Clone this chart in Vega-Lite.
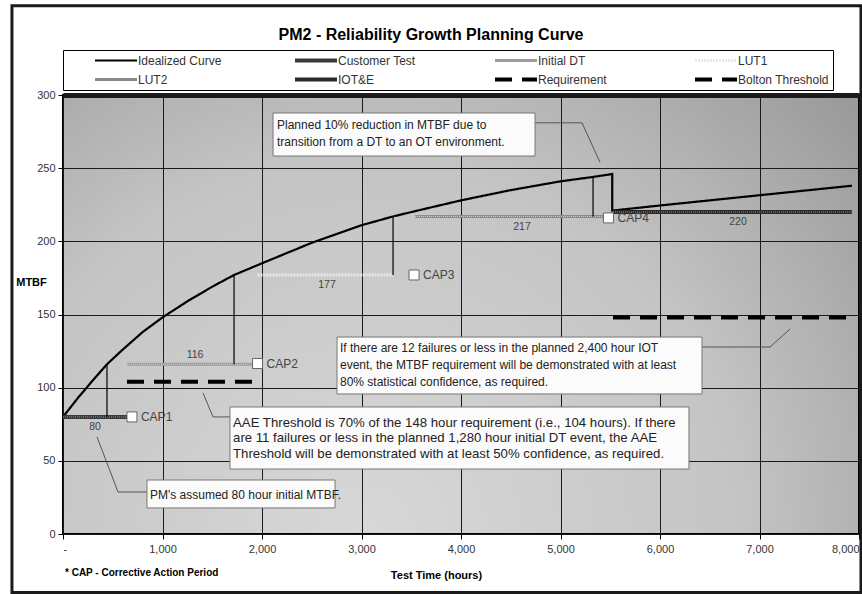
{
  "$schema": "https://vega.github.io/schema/vega-lite/v6.json",
  "width": 796,
  "height": 439,
  "autosize": {"type": "none"},
  "padding": {"left": 63, "top": 95, "right": 3, "bottom": 60},
  "background": "#ffffff",
  "title": {
    "text": "PM2 - Reliability Growth Planning Curve",
    "font": "Liberation Sans",
    "fontSize": 16,
    "fontWeight": "bold",
    "color": "#000000",
    "anchor": "middle",
    "dx": -30,
    "offset": 7,
    "dy": 46
  },
  "config": {
    "font": "Liberation Sans",
    "view": {
      "fill": {
        "gradient": "radial",
        "x1": 0.38, "y1": 0.78, "r1": 0,
        "x2": 0.38, "y2": 0.78, "r2": 0.95,
        "stops": [
          {"offset": 0, "color": "#d8d8d8"},
          {"offset": 0.5, "color": "#c4c4c4"},
          {"offset": 1, "color": "#8a8a8a"}
        ]
      },
      "stroke": "#000000",
      "strokeWidth": 2
    },
    "axis": {
      "labelFont": "Liberation Sans",
      "labelFontSize": 11,
      "labelColor": "#333333",
      "tickColor": "#000000",
      "tickSize": 5,
      "domain": false,
      "grid": true,
      "gridColor": "#1a1a1a",
      "gridWidth": 1,
      "titleFont": "Liberation Sans",
      "titleFontSize": 11,
      "titleFontWeight": "bold",
      "titleColor": "#000000"
    },
    "legend": {
      "orient": "none",
      "legendX": 0,
      "legendY": -45,
      "direction": "horizontal",
      "columns": 4,
      "strokeColor": "#000000",
      "strokeWidth": 1,
      "fillColor": "#ffffff",
      "padding": 4,
      "symbolType": "stroke",
      "symbolSize": 1764,
      "symbolOffset": 26,
      "labelOffset": -1,
      "columnPadding": 38,
      "rowPadding": 6,
      "clipHeight": 13,
      "labelFont": "Liberation Sans",
      "labelFontSize": 12,
      "labelColor": "#333333",
      "gridAlign": "all",
      "labelLimit": 260,
      "labelExpr": "datum.label + '        '"
    }
  },
  "datasets": {
    "lines": [
      {"series": "Idealized Curve", "i": 0, "t": 0, "v": 80},
      {"series": "Idealized Curve", "i": 1, "t": 150, "v": 93},
      {"series": "Idealized Curve", "i": 2, "t": 300, "v": 105},
      {"series": "Idealized Curve", "i": 3, "t": 442, "v": 116},
      {"series": "Idealized Curve", "i": 4, "t": 600, "v": 126},
      {"series": "Idealized Curve", "i": 5, "t": 800, "v": 138},
      {"series": "Idealized Curve", "i": 6, "t": 1000, "v": 148},
      {"series": "Idealized Curve", "i": 7, "t": 1250, "v": 159},
      {"series": "Idealized Curve", "i": 8, "t": 1500, "v": 169},
      {"series": "Idealized Curve", "i": 9, "t": 1719, "v": 177},
      {"series": "Idealized Curve", "i": 10, "t": 2000, "v": 185},
      {"series": "Idealized Curve", "i": 11, "t": 2500, "v": 199},
      {"series": "Idealized Curve", "i": 12, "t": 3000, "v": 211},
      {"series": "Idealized Curve", "i": 13, "t": 3317, "v": 217},
      {"series": "Idealized Curve", "i": 14, "t": 3500, "v": 220},
      {"series": "Idealized Curve", "i": 15, "t": 4000, "v": 228},
      {"series": "Idealized Curve", "i": 16, "t": 4500, "v": 235},
      {"series": "Idealized Curve", "i": 17, "t": 5000, "v": 241},
      {"series": "Idealized Curve", "i": 18, "t": 5327, "v": 244},
      {"series": "Idealized Curve", "i": 19, "t": 5520, "v": 246},
      {"series": "Idealized Curve", "i": 20, "t": 5520, "v": 221},
      {"series": "Idealized Curve", "i": 21, "t": 6000, "v": 224.5},
      {"series": "Idealized Curve", "i": 22, "t": 6500, "v": 228},
      {"series": "Idealized Curve", "i": 23, "t": 7000, "v": 231.5},
      {"series": "Idealized Curve", "i": 24, "t": 7500, "v": 235},
      {"series": "Idealized Curve", "i": 25, "t": 7930, "v": 238},
      {"series": "Customer Test", "i": 0, "t": 0, "v": 80},
      {"series": "Customer Test", "i": 1, "t": 693, "v": 80},
      {"series": "Initial DT", "i": 0, "t": 643, "v": 116},
      {"series": "Initial DT", "i": 1, "t": 1955, "v": 116},
      {"series": "LUT1", "i": 0, "t": 1955, "v": 177},
      {"series": "LUT1", "i": 1, "t": 3317, "v": 177},
      {"series": "LUT2", "i": 0, "t": 3538, "v": 217},
      {"series": "LUT2", "i": 1, "t": 5482, "v": 217},
      {"series": "IOT&E", "i": 0, "t": 5528, "v": 220},
      {"series": "IOT&E", "i": 1, "t": 7930, "v": 220},
      {"series": "Requirement", "i": 0, "t": 5528, "v": 148},
      {"series": "Requirement", "i": 1, "t": 7890, "v": 148},
      {"series": "Bolton Threshold", "i": 0, "t": 643, "v": 104},
      {"series": "Bolton Threshold", "i": 1, "t": 1910, "v": 104}
    ],
    "connectors": [
      {"t": 442, "v": 80, "v2": 116},
      {"t": 1719, "v": 116, "v2": 177},
      {"t": 3317, "v": 177, "v2": 217},
      {"t": 5327, "v": 217, "v2": 244}
    ],
    "caps": [
      {"cap": "CAP1", "t": 693, "v": 80},
      {"cap": "CAP2", "t": 1955, "v": 116.5},
      {"cap": "CAP3", "t": 3528, "v": 177},
      {"cap": "CAP4", "t": 5482, "v": 216}
    ],
    "values": [
      {"label": "80", "t": 322, "v": 73},
      {"label": "116", "t": 1327, "v": 122},
      {"label": "177", "t": 2653, "v": 170},
      {"label": "217", "t": 4613, "v": 210},
      {"label": "220", "t": 6784, "v": 213}
    ],
    "leaders": [
      {"id": 1, "i": 0, "t": 4744, "v": 281},
      {"id": 1, "i": 1, "t": 5216, "v": 281},
      {"id": 1, "i": 2, "t": 5397, "v": 254},
      {"id": 2, "i": 0, "t": 6422, "v": 127.8},
      {"id": 2, "i": 1, "t": 7106, "v": 127.8},
      {"id": 2, "i": 2, "t": 7307, "v": 140.1},
      {"id": 3, "i": 0, "t": 1678, "v": 80},
      {"id": 3, "i": 1, "t": 1508, "v": 80},
      {"id": 3, "i": 2, "t": 1407, "v": 96.4},
      {"id": 4, "i": 0, "t": 844, "v": 28.7},
      {"id": 4, "i": 1, "t": 553, "v": 28.7},
      {"id": 4, "i": 2, "t": 342, "v": 66.3}
    ],
    "boxes": [
      {"id": 1, "t": 2111, "t2": 4744, "v": 258.3, "v2": 287.7},
      {"id": 2, "t": 2754, "t2": 6422, "v": 95.7, "v2": 134.6},
      {"id": 3, "t": 1678, "t2": 6291, "v": 44.4, "v2": 86.8},
      {"id": 4, "t": 844, "t2": 2734, "v": 17.8, "v2": 36.9}
    ],
    "notes": [
      {"box": 1, "t": 2151, "v": 279.5, "text": "Planned 10% reduction in MTBF due to"},
      {"box": 1, "t": 2151, "v": 267.9, "text": "transition from a DT to an OT environment."},
      {"box": 2, "t": 2784, "v": 127.1, "text": "If there are 12 failures or less in the planned 2,400 hour IOT"},
      {"box": 2, "t": 2784, "v": 115.5, "text": "event, the MTBF requirement will be demonstrated with at least"},
      {"box": 2, "t": 2784, "v": 103.9, "text": "80% statistical confidence, as required."},
      {"box": 3, "t": 1709, "v": 75.8, "text": "AAE Threshold is 70% of the 148 hour requirement (i.e., 104 hours).  If there"},
      {"box": 3, "t": 1709, "v": 65.4, "text": "are 11 failures or less in the planned 1,280 hour initial DT event, the AAE"},
      {"box": 3, "t": 1709, "v": 55.0, "text": "Threshold will be demonstrated with at least 50% confidence, as required."},
      {"box": 4, "t": 874, "v": 26.7, "text": "PM's assumed 80 hour initial MTBF."}
    ],
    "footnote": [
      {"t": 20, "v": -26.7, "text": "* CAP - Corrective Action Period"}
    ]
  },
  "layer": [
    {
      "data": {"values": [{}]},
      "mark": {"type": "rect", "fill": "#ffffff", "fillOpacity": 0, "stroke": "#1a1a1a", "strokeWidth": 3},
      "encoding": {
        "x": {"datum": -513, "type": "quantitative", "scale": {"domain": [0, 8000], "nice": false, "zero": false}},
        "x2": {"datum": 8020},
        "y": {"datum": 361, "type": "quantitative", "scale": {"domain": [0, 300], "nice": false, "zero": false}},
        "y2": {"datum": -40}
      }
    },
    {
      "data": {"name": "lines"},
      "mark": {"type": "line", "strokeCap": "butt", "strokeJoin": "miter"},
      "encoding": {
        "x": {
          "field": "t", "type": "quantitative",
          "scale": {"domain": [0, 8000], "nice": false, "zero": false},
          "axis": {
            "values": [0, 1000, 2000, 3000, 4000, 5000, 6000, 7000, 8000],
            "labelExpr": "datum.value == 0 ? '-' : format(datum.value, ',')",
            "labelDx": -15,
            "labelPadding": 4,
            "title": "Test Time (hours)",
            "titleX": 373,
            "titleY": 41,
            "titleBaseline": "middle"
          }
        },
        "y": {
          "field": "v", "type": "quantitative",
          "scale": {"domain": [0, 300], "nice": false, "zero": false},
          "axis": {
            "values": [0, 50, 100, 150, 200, 250, 300],
            "labelPadding": 3,
            "gridWidth": {"condition": {"test": "datum.value === 300", "value": 5}, "value": 1},
            "title": "MTBF",
            "titleAngle": 0,
            "titleX": -32,
            "titleY": 187,
            "titleAlign": "center",
            "titleBaseline": "middle"
          }
        },
        "order": {"field": "i", "type": "quantitative"},
        "stroke": {
          "field": "series", "type": "nominal",
          "scale": {
            "domain": ["Idealized Curve", "Customer Test", "Initial DT", "LUT1", "LUT2", "IOT&E", "Requirement", "Bolton Threshold"],
            "range": ["#000000", "#3a3a3a", "#9c9c9c", "#e8e8e8", "#8a8a8a", "#2a2a2a", "#000000", "#000000"]
          },
          "legend": {"title": null}
        },
        "strokeDash": {
          "field": "series", "type": "nominal",
          "scale": {
            "domain": ["Idealized Curve", "Customer Test", "Initial DT", "LUT1", "LUT2", "IOT&E", "Requirement", "Bolton Threshold"],
            "range": [[1, 0], [1, 0], [1, 0], [2, 1], [1, 0], [1, 0], [17, 10], [17, 10]]
          },
          "legend": {"title": null}
        },
        "strokeWidth": {
          "field": "series", "type": "nominal",
          "scale": {
            "type": "ordinal",
            "domain": ["Idealized Curve", "Customer Test", "Initial DT", "LUT1", "LUT2", "IOT&E", "Requirement", "Bolton Threshold"],
            "range": [2.2, 4, 3, 3, 3, 4, 4, 4]
          },
          "legend": {"title": null}
        }
      }
    },
    {
      "data": {"name": "lines"},
      "transform": [{"filter": "datum.series === 'Customer Test' || datum.series === 'IOT&E'"}],
      "mark": {"type": "line", "stroke": "#8c8c8c", "strokeWidth": 1, "strokeDash": [1, 1], "strokeCap": "butt"},
      "encoding": {
        "x": {"field": "t", "type": "quantitative"},
        "y": {"field": "v", "type": "quantitative"},
        "detail": {"field": "series", "type": "nominal"},
        "order": {"field": "i", "type": "quantitative"}
      }
    },
    {
      "data": {"name": "lines"},
      "transform": [{"filter": "datum.series === 'Initial DT' || datum.series === 'LUT2'"}],
      "mark": {"type": "line", "stroke": "#cfcfcf", "strokeWidth": 1, "strokeDash": [1, 1], "strokeCap": "butt"},
      "encoding": {
        "x": {"field": "t", "type": "quantitative"},
        "y": {"field": "v", "type": "quantitative"},
        "detail": {"field": "series", "type": "nominal"},
        "order": {"field": "i", "type": "quantitative"}
      }
    },
    {
      "data": {"name": "connectors"},
      "mark": {"type": "rule", "stroke": "#000000", "strokeWidth": 1.2},
      "encoding": {
        "x": {"field": "t", "type": "quantitative"},
        "y": {"field": "v", "type": "quantitative"},
        "y2": {"field": "v2"}
      }
    },
    {
      "data": {"name": "leaders"},
      "mark": {"type": "line", "stroke": "#555555", "strokeWidth": 1},
      "encoding": {
        "x": {"field": "t", "type": "quantitative"},
        "y": {"field": "v", "type": "quantitative"},
        "detail": {"field": "id", "type": "nominal"},
        "order": {"field": "i", "type": "quantitative"}
      }
    },
    {
      "data": {"name": "boxes"},
      "mark": {"type": "rect", "fill": "#fbfbfb", "stroke": "#777777", "strokeWidth": 1},
      "encoding": {
        "x": {"field": "t", "type": "quantitative"},
        "x2": {"field": "t2"},
        "y": {"field": "v", "type": "quantitative"},
        "y2": {"field": "v2"}
      }
    },
    {
      "data": {"name": "notes"},
      "transform": [{"filter": "datum.box !== 3"}],
      "mark": {"type": "text", "align": "left", "baseline": "middle", "fontSize": 12, "color": "#222222"},
      "encoding": {
        "x": {"field": "t", "type": "quantitative"},
        "y": {"field": "v", "type": "quantitative"},
        "text": {"field": "text"}
      }
    },
    {
      "data": {"name": "notes"},
      "transform": [{"filter": "datum.box === 3"}],
      "mark": {"type": "text", "align": "left", "baseline": "middle", "fontSize": 13.2, "color": "#222222"},
      "encoding": {
        "x": {"field": "t", "type": "quantitative"},
        "y": {"field": "v", "type": "quantitative"},
        "text": {"field": "text"}
      }
    },
    {
      "data": {"name": "caps"},
      "mark": {"type": "point", "shape": "square", "size": 100, "filled": true, "fill": "#ffffff", "stroke": "#666666", "strokeWidth": 1, "opacity": 1},
      "encoding": {
        "x": {"field": "t", "type": "quantitative"},
        "y": {"field": "v", "type": "quantitative"}
      }
    },
    {
      "data": {"name": "caps"},
      "mark": {"type": "text", "align": "left", "baseline": "middle", "dx": 9, "fontSize": 12, "color": "#444444"},
      "encoding": {
        "x": {"field": "t", "type": "quantitative"},
        "y": {"field": "v", "type": "quantitative"},
        "text": {"field": "cap"}
      }
    },
    {
      "data": {"name": "values"},
      "mark": {"type": "text", "align": "center", "baseline": "middle", "fontSize": 10.5, "color": "#444444"},
      "encoding": {
        "x": {"field": "t", "type": "quantitative"},
        "y": {"field": "v", "type": "quantitative"},
        "text": {"field": "label"}
      }
    },
    {
      "data": {"name": "footnote"},
      "mark": {"type": "text", "align": "left", "baseline": "middle", "fontSize": 10, "fontWeight": "bold", "color": "#000000"},
      "encoding": {
        "x": {"field": "t", "type": "quantitative"},
        "y": {"field": "v", "type": "quantitative"},
        "text": {"field": "text"}
      }
    }
  ]
}
